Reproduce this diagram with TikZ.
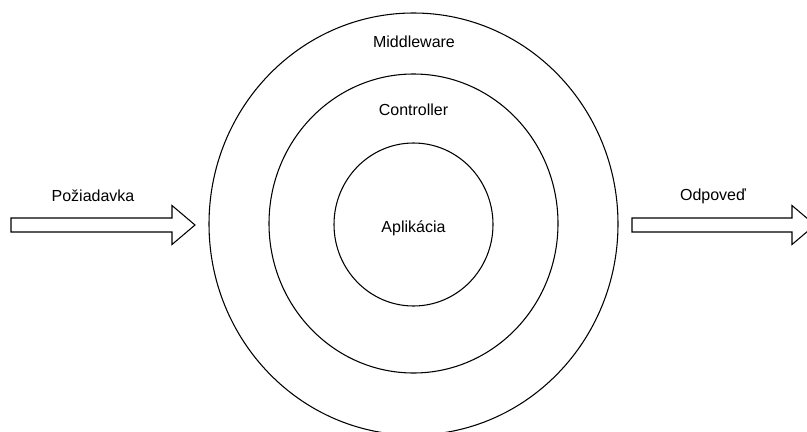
\documentclass[tikz,border=0pt]{standalone}
\usepackage{fontspec}
\setmainfont{Liberation Sans}
\usetikzlibrary{shapes.geometric}

\tikzset{
  layer/.style={draw, ellipse, line width=0.8pt, inner sep=0pt},
  lbl/.style={font=\fontsize{12}{14}\selectfont, inner sep=0pt},
  blockarrow/.style={draw, line width=0.8pt, line join=miter}
}

\begin{document}
\begin{tikzpicture}[x=0.75pt,y=-0.75pt]
    \useasboundingbox (0,0) rectangle (807,432);
    \clip (0,0) rectangle (807,432);

    % layers (sizes in px, 1px = 0.75pt)
    \node[layer, minimum width=306.75pt, minimum height=316.5pt] (mw) at (413.5,224) {};
    \node[layer, minimum width=216.75pt, minimum height=224.25pt] (ctrl) at (413.5,223.5) {};
    \node[layer, minimum width=119.25pt, minimum height=122.25pt] (app) at (413.5,224.5) {};

    \node[lbl] (mwlbl) at (414,42) {Middleware};
    \node[lbl] (ctrllbl) at (413.5,110) {Controller};
    \node[lbl] (applbl) at (413.5,228) {Aplikácia};

    % request and response
    \draw[blockarrow] (11,218) -- (172,218) -- (172,205.5) -- (195,225)
      -- (172,244.5) -- (172,232) -- (11,232) -- cycle;
    \node[lbl] (reqlbl) at (93,196) {Požiadavka};

    \draw[blockarrow] (632,218) -- (792,218) -- (792,205.5) -- (815,225)
      -- (792,244.5) -- (792,232) -- (632,232) -- cycle;
    \node[lbl] (resplbl) at (713,196) {Odpoveď};
\end{tikzpicture}
\end{document}
